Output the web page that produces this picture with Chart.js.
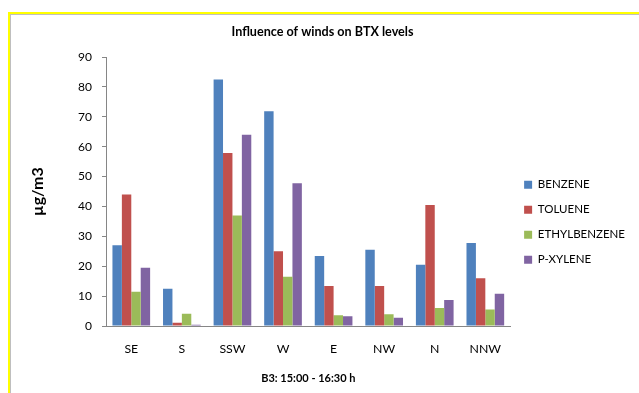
<!DOCTYPE html>
<html>
<head>
<meta charset="utf-8">
<script src="https://cdn.jsdelivr.net/npm/chart.js@4/dist/chart.umd.min.js"></script>
<style>
  html, body { margin: 0; padding: 0; background: #fff; }
  #wrap { width: 639px; height: 393px; position: relative; }
</style>
</head>
<body>
<div id="wrap"><canvas id="c" width="639" height="393"></canvas></div>
<script>
const categories = ["SE", "S", "SSW", "W", "E", "NW", "N", "NNW"];
const benzene      = [27.0, 12.5, 82.5, 71.9, 23.4, 25.5, 20.5, 27.8];
const toluene      = [44.0, 1.1, 57.9, 25.0, 13.4, 13.4, 40.5, 16.0];
const ethylbenzene = [11.5, 4.1, 37.0, 16.5, 3.6, 3.9, 6.0, 5.5];
const pxylene      = [19.5, 0.4, 64.0, 47.8, 3.3, 2.8, 8.7, 10.8];
const seriesNames  = ["BENZENE", "TOLUENE", "ETHYLBENZENE", "P-XYLENE"];
const yTicks       = [0, 10, 20, 30, 40, 50, 60, 70, 80, 90];

const colors = ["#4F81BD", "#C0504D", "#9BBB59", "#8064A2"];
const FONT = "Lato, 'Open Sans', sans-serif";

const frame = {
  id: 'frame',
  beforeDraw(chart) {
    const ctx = chart.ctx;
    ctx.save();
    ctx.fillStyle = '#ffffff';
    ctx.fillRect(0, 0, chart.width, chart.height);
    ctx.fillStyle = '#FFFF00';
    ctx.fillRect(8, 12, chart.width - 8, 2);
    ctx.fillRect(8, 12, 2, chart.height - 12);
    ctx.fillStyle = '#BFBFBF';
    ctx.fillRect(10, 14, chart.width - 10, 1);
    ctx.fillRect(10, 14, 1, chart.height - 14);
    ctx.restore();
  }
};

const allSeries = [benzene, toluene, ethylbenzene, pxylene];

new Chart(document.getElementById('c'), {
  type: 'bar',
  data: {
    labels: categories,
    datasets: allSeries.map((d, i) => ({
      label: seriesNames[i],
      data: d,
      backgroundColor: colors[i],
      borderWidth: 0,
      categoryPercentage: 0.745,
      barPercentage: 1.0
    }))
  },
  options: {
    responsive: false,
    animation: false,
    layout: { padding: { top: 14, left: 10, right: 4, bottom: 0 } },
    plugins: {
      title: {
        display: true,
        text: 'Influence of winds on BTX levels',
        color: '#000',
        font: { family: FONT, size: 12.6, weight: 'bold' },
        padding: { top: 10.2, bottom: 17.8 }
      },
      legend: {
        position: 'right',
        align: 'start',
        fullSize: false,
        title: { display: true, text: '', padding: { top: 94, bottom: 0 }, font: { size: 12 } },
        labels: {
          boxWidth: 8,
          boxHeight: 8,
          padding: 13.5,
          color: '#000',
          font: { family: FONT, size: 11.5 }
        }
      },
      tooltip: { enabled: false }
    },
    scales: {
      x: {
        grid: { display: false, drawTicks: false },
        border: { display: true, color: '#868686', width: 1 },
        ticks: { color: '#000', font: { family: FONT, size: 12.3 }, padding: 16, maxRotation: 0 },
        title: {
          display: true,
          text: 'B3: 15:00 - 16:30 h',
          color: '#000',
          font: { family: FONT, size: 11, weight: 'bold' },
          padding: { top: 0, bottom: 8.4 }
        },
        afterFit(scale) { scale.height = 67; }
      },
      y: {
        min: 0,
        max: 90,
        afterBuildTicks(scale) { scale.ticks = yTicks.map(v => ({ value: v })); },
        grid: { drawOnChartArea: false, drawTicks: true, tickLength: 4, color: '#868686' },
        border: { display: true, color: '#868686', width: 1 },
        ticks: { color: '#000', font: { family: FONT, size: 12 }, padding: 10 },
        title: {
          display: true,
          text: 'µg/m3',
          color: '#000',
          font: { family: FONT, size: 16, weight: 'bold' },
          padding: { top: 18.4, bottom: 0 }
        },
        afterFit(scale) { scale.width = 96; }
      }
    }
  },
  plugins: [frame]
});
</script>
</body>
</html>
